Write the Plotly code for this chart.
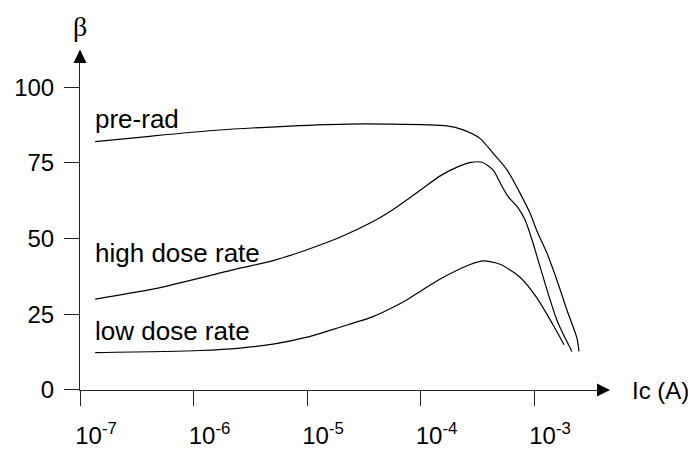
import plotly.graph_objects as go

# ---- data (Ic in A, beta dimensionless) ----
pre_rad_ic = [1.36e-7, 3.89e-7, 1.49e-6, 5.78e-6, 2.25e-5, 5.07e-5, 1.71e-4, 2.37e-4,
              3.34e-4, 4.35e-4, 5.78e-4, 7.53e-4, 9.22e-4, 1.08e-3, 1.30e-3, 1.59e-3,
              1.95e-3, 2.39e-3, 2.49e-3]
pre_rad_beta = [82.0, 83.7, 85.7, 87.0, 87.8, 87.8, 87.2, 85.9,
                83.1, 78.2, 72.7, 65.0, 58.4, 51.8, 45.2, 36.3,
                26.4, 17.1, 12.7]

high_ic = [1.36e-7, 5.07e-7, 2.57e-6, 5.02e-6, 1.00e-5, 1.95e-5, 3.82e-5, 5.39e-5,
           7.61e-5, 1.05e-4, 1.49e-4, 2.10e-4, 2.73e-4, 3.48e-4, 4.35e-4, 5.23e-4,
           5.90e-4, 7.09e-4, 8.33e-4, 9.60e-4, 1.13e-3, 1.33e-3, 1.59e-3, 1.88e-3,
           2.16e-3]
high_beta = [30.0, 33.8, 40.2, 42.7, 46.3, 50.4, 55.6, 58.9,
             62.8, 66.6, 70.7, 73.6, 75.1, 75.2, 72.7, 67.2,
             63.9, 60.6, 56.2, 49.6, 40.7, 31.9, 23.1, 17.1,
             12.7]

low_ic = [1.36e-7, 1.14e-6, 2.57e-6, 5.02e-6, 1.00e-5, 1.95e-5, 3.82e-5, 5.39e-5,
          7.61e-5, 1.05e-4, 1.49e-4, 2.10e-4, 2.73e-4, 3.55e-4, 5.01e-4, 7.53e-4,
          1.06e-3, 1.47e-3, 1.84e-3]
low_beta = [12.3, 13.0, 13.8, 15.1, 17.4, 20.7, 24.2, 26.8,
            29.8, 33.1, 36.6, 39.5, 41.4, 42.6, 41.5, 37.2,
            30.4, 21.5, 14.9]

series_names = ["pre-rad", "high dose rate", "low dose rate"]
label_beta = [89.5, 45.3, 19.3]          # vertical position of each curve label
label_ic_log = -6.885                    # label left position (log10 A)

x_tickvals = [1e-7, 1e-6, 1e-5, 1e-4, 1e-3]
x_ticktext = ["10<sup>-7</sup>", "10<sup>-6</sup>", "10<sup>-5</sup>",
              "10<sup>-4</sup>", "10<sup>-3</sup>"]
y_tickvals = [0, 25, 50, 75, 100]
y_ticktext = ["0", "25", "50", "75", "100"]

FONT = "Liberation Sans, Arial, sans-serif"
AXC = "#222222"

fig = go.Figure()
for name, xs, ys in [(series_names[0], pre_rad_ic, pre_rad_beta),
                     (series_names[1], high_ic, high_beta),
                     (series_names[2], low_ic, low_beta)]:
    fig.add_trace(go.Scatter(x=xs, y=ys, mode="lines", name=name,
                             line=dict(color="black", width=1.2, shape="spline", smoothing=0.7),
                             cliponaxis=False, showlegend=False, hoverinfo="skip"))

for name, yb in zip(series_names, label_beta):
    fig.add_annotation(x=label_ic_log, y=yb, xref="x", yref="y", text=name,
                       showarrow=False, xanchor="left", yanchor="middle",
                       font=dict(family=FONT, size=26, color="black"))

# axis titles
fig.add_annotation(x=1, y=0, xref="paper", yref="paper", text="Ic (A)",
                   showarrow=False, xanchor="left", yanchor="middle", xshift=33,
                   font=dict(family=FONT, size=24, color="black"))
fig.add_annotation(x=0, y=1, xref="paper", yref="paper", text="β",
                   showarrow=False, xanchor="center", yanchor="middle", yshift=37,
                   font=dict(family="Liberation Serif, Times New Roman, serif", size=28, color="black"))

# arrow heads at the ends of the axes
fig.add_shape(type="path", xref="paper", yref="paper", xsizemode="pixel", ysizemode="pixel",
              xanchor=1, yanchor=0, path="M 0,6.5 L 13,0 L 0,-6.5 Z",
              fillcolor="black", line=dict(width=0))
fig.add_shape(type="path", xref="paper", yref="paper", xsizemode="pixel", ysizemode="pixel",
              xanchor=0, yanchor=1, path="M -6.5,0 L 6.5,0 L 0,13.5 Z",
              fillcolor="black", line=dict(width=0))

fig.update_xaxes(type="log", range=[-7.0005, -2.4449], showgrid=False, zeroline=False,
                 showline=True, linecolor=AXC, linewidth=1, automargin=False,
                 ticks="outside", ticklen=15, tickwidth=1, tickcolor=AXC,
                 tickmode="array", tickvals=x_tickvals, ticktext=x_ticktext,
                 ticklabelshift=16, ticklabelstandoff=9,
                 tickfont=dict(family=FONT, size=24, color="black"))
fig.update_yaxes(range=[-0.05, 108.0], showgrid=False, zeroline=False,
                 showline=True, linecolor=AXC, linewidth=1, automargin=False,
                 ticks="outside", ticklen=15, tickwidth=1, tickcolor=AXC,
                 tickmode="array", tickvals=y_tickvals, ticktext=y_ticktext,
                 ticklabelstandoff=5,
                 tickfont=dict(family=FONT, size=24, color="black"))

# the page adds an 8 px body margin, so the figure is 8 px smaller than the window
fig.update_layout(width=688, height=441, margin=dict(l=72, r=99, t=55, b=59),
                  paper_bgcolor="white", plot_bgcolor="white", showlegend=False)

fig.write_html("out.html")
